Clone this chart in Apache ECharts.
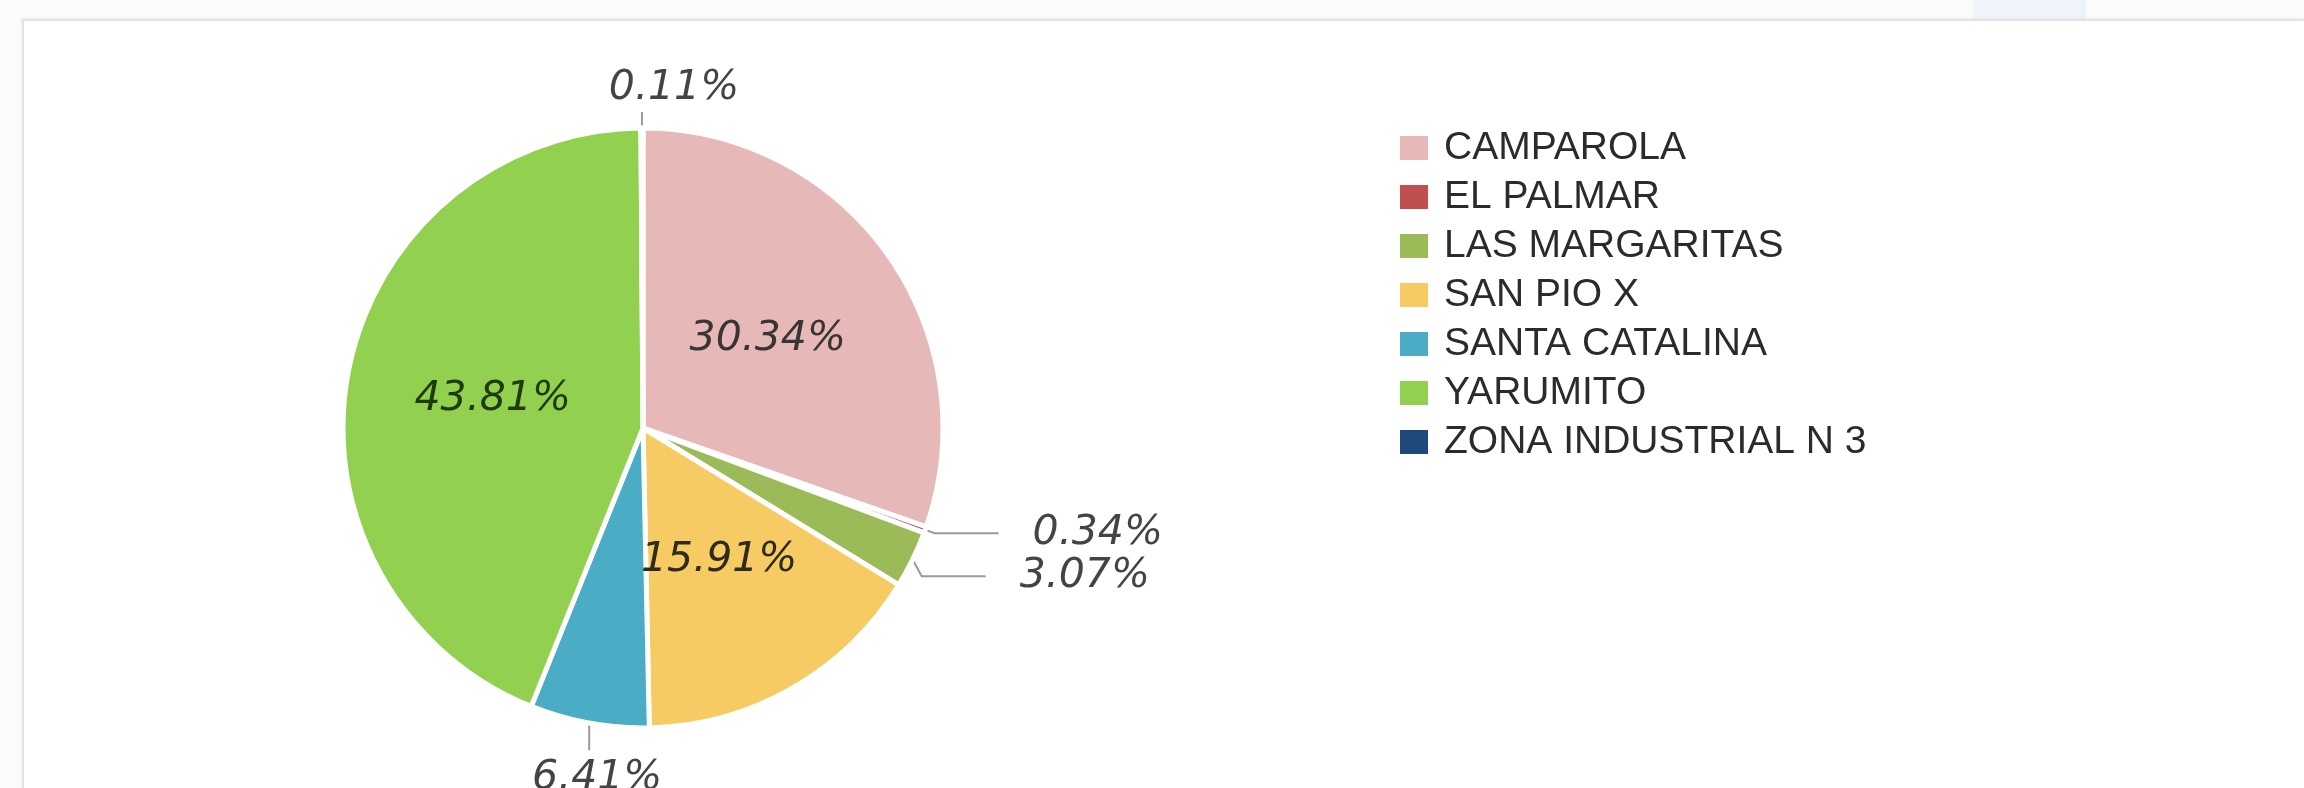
<!DOCTYPE html>
<html>
<head>
<meta charset="utf-8">
<title>Distribución por barrio</title>
<script src="https://cdn.jsdelivr.net/npm/echarts@6/dist/echarts.min.js"></script>
<style>
  html, body { margin: 0; padding: 0; background: #fff; }
  #wrap { position: relative; width: 2304px; height: 788px; overflow: hidden; background: #fcfcfc; }
  #toolbar { position: absolute; left: 0; top: 0; width: 2304px; height: 19px; background: #fbfbfb; }
  #toolbar .tab { position: absolute; left: 1973px; top: 0; width: 113px; height: 19px; background: #eff4fb; }
  #card {
    position: absolute; left: 22px; top: 19px; right: 0; bottom: 0;
    background: #fff;
    border-top: 2px solid #e3e3e3;
    border-left: 2px solid #e3e3e3;
    box-shadow: -1px -1px 3px rgba(0, 0, 0, 0.05);
  }
  #pieChart { position: absolute; left: 0; top: 0; width: 2304px; height: 788px; }
</style>
</head>
<body>
<div id="wrap">
  <div id="toolbar"><div class="tab"></div></div>
  <div id="card"></div>
  <div id="pieChart"></div>
</div>
<script>
// data (percent of total)
var categories = ['CAMPAROLA', 'EL PALMAR', 'LAS MARGARITAS', 'SAN PIO X', 'SANTA CATALINA', 'YARUMITO', 'ZONA INDUSTRIAL N 3'];
var shares = [30.34, 0.34, 3.07, 15.91, 6.41, 43.81, 0.11];

var pieColors = ['#E6B9B8', '#C0504D', '#9BBB59', '#F6CB63', '#4BACC6', '#92D050', '#1F497D'];
var insideTextColors = ['#3a3434', '#333', '#333', '#2e2a1c', '#333', '#1f3a0c', '#333'];

var pieCenter = [643, 428];
var pieRadius = 300;

var pieData = categories.map(function (name, i) {
  var item = { name: name, value: shares[i] };
  if (shares[i] < 10) {
    item.label = { position: 'outside', color: '#444' };
  } else {
    item.label = { position: 'inside', color: insideTextColors[i] };
  }
  return item;
});

var pieChart = echarts.init(document.getElementById('pieChart'));

var options = {
  animation: false,
  color: pieColors,
  legend: {
    orient: 'vertical',
    left: 1393,
    top: 123,
    icon: 'rect',
    itemWidth: 30,
    itemHeight: 26,
    itemGap: 9,
    selectedMode: false,
    textStyle: {
      fontFamily: 'Liberation Sans',
      fontSize: 39,
      lineHeight: 40,
      color: '#2b2b2b',
      padding: [0, 0, 0, 10],
    },
    data: categories,
  },
  series: [
    {
      type: 'pie',
      radius: pieRadius,
      center: pieCenter,
      startAngle: 90,
      clockwise: true,
      avoidLabelOverlap: true,
      itemStyle: { borderColor: '#fff', borderWidth: 5 },
      label: {
        show: true,
        position: 'inside',
        alignTo: 'labelLine',
        distanceToLabelLine: 34,
        fontFamily: 'DejaVu Sans',
        fontStyle: 'italic',
        fontSize: 41,
        textBorderWidth: 0,
        formatter: function (p) {
          return p.value.toFixed(2) + '%';
        },
      },
      labelLine: {
        show: true,
        length: 10,
        length2: 64,
        lineStyle: { color: '#9a9a9a', width: 2 },
      },
      // labels sitting straight above / below the pie get a short vertical tick, text centred near it
      labelLayout: function (params) {
        var pts = params.labelLinePoints;
        if (!pts) return;
        if (Math.abs(pts[0][0] - pieCenter[0]) > pieRadius * 0.4) return;
        var up = pts[0][1] < pieCenter[1];
        var end = [pts[0][0], pts[0][1] + (up ? -16 : 27)];
        return {
          x: end[0] + (up ? 32 : 8),
          y: end[1] + (up ? -3 : 8),
          align: 'center',
          verticalAlign: up ? 'bottom' : 'top',
          labelLinePoints: [pts[0], end, end],
        };
      },
      emphasis: { scale: false },
      data: pieData,
    },
  ],
};

pieChart.setOption(options);
</script>
</body>
</html>
